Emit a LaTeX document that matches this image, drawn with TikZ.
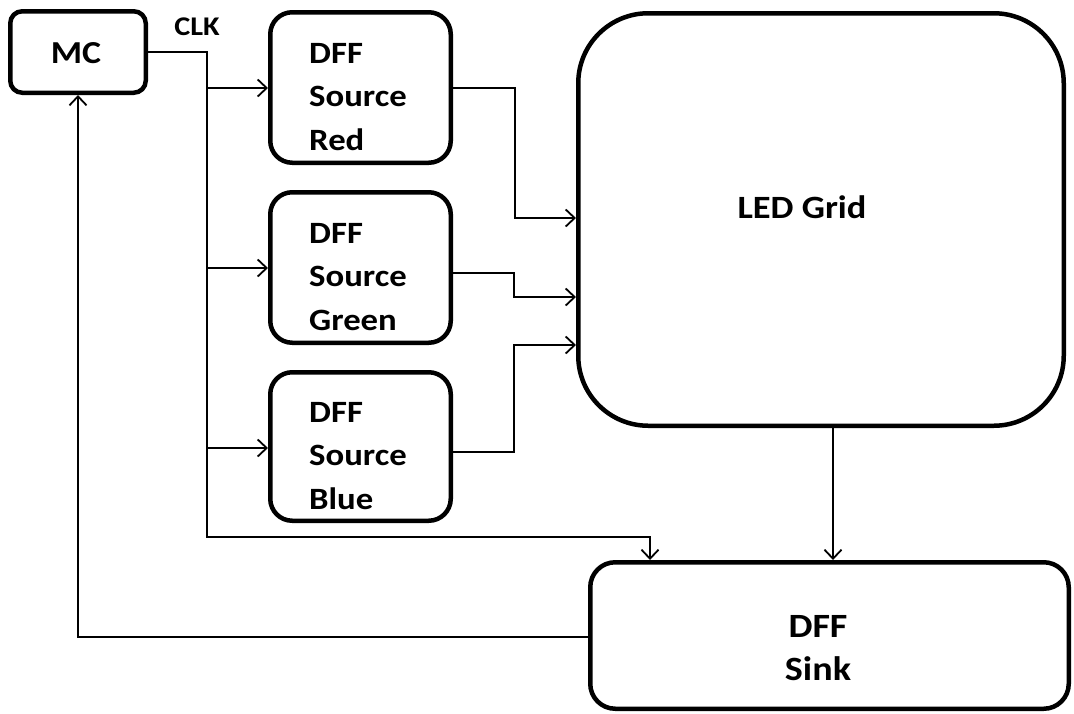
\documentclass[tikz,border=0pt]{standalone}
\usepackage{fontspec}
\setmainfont{Carlito}[FakeStretch=1.12]
\usetikzlibrary{arrows.meta}
\begin{document}
\begin{tikzpicture}[x=1pt,y=-1pt,
  blk/.style={draw=black,line width=4.5pt,rectangle,inner sep=0pt},
  conn/.style={draw=black,line width=1.8pt},
  arr/.style={conn,-{Straight Barb[length=9pt,width=17pt,line width=1.8pt]}},
  lbl/.style={inner sep=0pt,font=\bfseries\fontsize{31}{43.5}\selectfont,align=left,anchor=north west},
  big/.style={inner sep=0pt,font=\bfseries\fontsize{34}{43}\selectfont,align=center}
]
\useasboundingbox (0,0) rectangle (1074,713);
% boxes
\node[blk,rounded corners=12pt,minimum width=135.5pt,minimum height=81.5pt] (mc) at (78,52) {};
\node[blk,rounded corners=22pt,minimum width=180.5pt,minimum height=150.5pt] (red) at (360.5,87.5) {};
\node[blk,rounded corners=22pt,minimum width=180.5pt,minimum height=150.5pt] (green) at (360.5,267.5) {};
\node[blk,rounded corners=22pt,minimum width=180.5pt,minimum height=148.5pt] (blue) at (360.5,446.5) {};
\node[blk,rounded corners=70pt,minimum width=485.5pt,minimum height=412.5pt] (led) at (821,219.5) {};
\node[blk,rounded corners=25pt,minimum width=478.5pt,minimum height=146.5pt] (sink) at (829.5,635.5) {};
% texts
\node[inner sep=0pt,font=\bfseries\fontsize{32}{40}\selectfont,anchor=base] (mct) at (76,63) {MC};
\node[inner sep=0pt,font=\bfseries\fontsize{27}{30}\selectfont,anchor=base] (clk) at (197,35) {CLK};
\node[lbl] (redt) at (309,43) {DFF\\Source\\Red};
\node[lbl] (greent) at (309,223) {DFF\\Source\\Green};
\node[lbl] (bluet) at (309,402) {DFF\\Source\\Blue};
\node[inner sep=0pt,font=\bfseries\fontsize{32.5}{40}\selectfont,anchor=base] (ledt) at (802,218) {LED Grid};
\node[big,anchor=north] (sinkt) at (818,615) {DFF\\Sink};
% coordinates
\coordinate (cj) at (207,52);
\coordinate (cb) at (207,537);
\coordinate (b1) at (207,88);
\coordinate (b2) at (207,268);
\coordinate (b3) at (207,448);
\coordinate (sin) at (650,560);
\coordinate (r1) at (515,218);
\coordinate (g0) at (453,273);
\coordinate (g1) at (514,297);
\coordinate (u0) at (453,452);
\coordinate (u1) at (514,345);
\coordinate (lx) at (833,0);
\coordinate (fb) at (77,637);
% connectors
\draw[arr] (mc.east) -- (cj) -- (cb) -| (sin);
\draw[arr] (b1) -- (b1 -| red.west);
\draw[arr] (b2) -- (b2 -| green.west);
\draw[arr] (b3) -- (b3 -| blue.west);
\draw[arr] (red.east |- 0,88) -| (r1) -- (r1 -| led.west);
\draw[arr] (g0 -| green.east) -| (g1) -- (g1 -| led.west);
\draw[arr] (u0 -| blue.east) -| (u1) -- (u1 -| led.west);
\draw[arr] (led.south -| lx) -- (sink.north -| lx);
\draw[arr] (fb -| sink.west) -| (mc.south);
\end{tikzpicture}
\end{document}
